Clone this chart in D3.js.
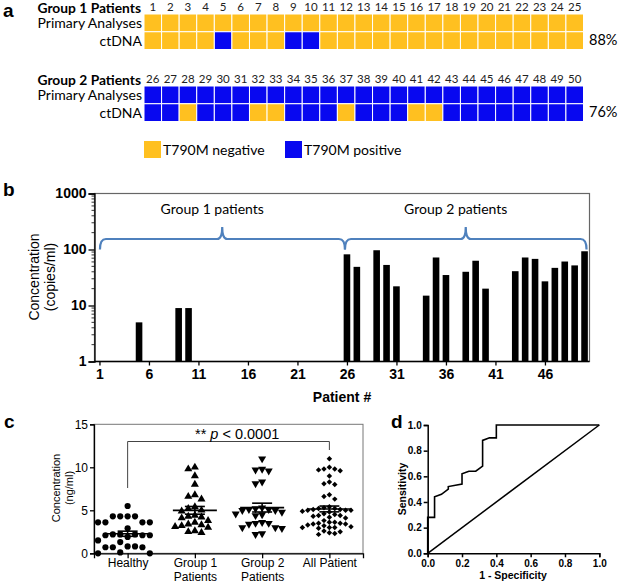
<!DOCTYPE html>
<html>
<head>
<meta charset="utf-8">
<script src="https://cdn.jsdelivr.net/npm/d3@7"></script>
<style>
body{margin:0;background:#fff}
svg{display:block}
.cal{font-family:Lato,"Open Sans",sans-serif}
.ari{font-family:"Liberation Sans",Arial,sans-serif}
</style>
</head>
<body>
<svg id="fig" width="618" height="583"></svg>
<script>
// panel a - T790M status per patient (1 = positive, 0 = negative)
var group1Ids = [1,2,3,4,5,6,7,8,9,10,11,12,13,14,15,16,17,18,19,20,21,22,23,24,25]
var group2Ids = [26,27,28,29,30,31,32,33,34,35,36,37,38,39,40,41,42,43,44,45,46,47,48,49,50]
var rowLabels = ["Primary Analyses","ctDNA"]
var group1Primary = [0,0,0,0,0,0,0,0,0,0,0,0,0,0,0,0,0,0,0,0,0,0,0,0,0]
var group1Ctdna   = [0,0,0,0,1,0,0,0,1,1,0,0,0,0,0,0,0,0,0,0,0,0,0,0,0]
var group2Primary = [1,1,1,1,1,1,1,1,1,1,1,1,1,1,1,1,1,1,1,1,1,1,1,1,1]
var group2Ctdna   = [1,1,0,1,1,1,0,0,1,1,1,0,1,1,1,0,0,1,1,1,1,1,1,1,1]
var concordance = ["88%","76%"]
var legendLabels = ["T790M negative","T790M positive"]

// panel b - ctDNA T790M copies/ml per patient (0 = not detected)
var patientIds = group1Ids.concat(group2Ids)
var copies = [0,0,0,0,5,0,0,0,9,9,0,0,0,0,0,0,0,0,0,0,0,0,0,0,0,
              82,49,0,97,53,22,0,0,15,72,35,0,40,63,20,0,0,41,72,68,27,47,61,52,93]
var copyTicks = [1,10,100,1000]
var patientTicks = [1,6,11,16,21,26,31,36,41,46]

// panel c - concentration (ng/ml)
var cCategories = ["Healthy","Group 1 Patients","Group 2 Patients","All Patient"]
var healthy = [5.5,4.3,4.3,4.3,4.3,3.6,3.6,3.6,3.6,2.9,2.2,2.2,2.2,2.1,2.1,2.1,1.9,1.5,1.3,0.8,0.8,0.7,0.7,0.7,0.1,0,0]
var group1 = [10,9.8,9,8,6.8,6.6,6.3,5.4,5.2,5,4.9,4.4,4.3,4.2,4.1,3.8,3.6,3.4,3.3,3.2,3.1,3,2.6,2.5,2.4]
var group2 = [11,9.8,9.6,9.7,8.3,8.1,5.3,5.1,5,5,5.2,5.1,4.8,4.6,4.5,4.4,3.6,3.5,3.4,3.5,3,2.9,3,2.3,2.2]
var allPatient = [11,10,9.8,9.8,9.7,9.6,9,8.3,8.1,8,6.8,6.6,6.3,5.4,5.3,5.2,5.2,5.1,5.1,5,5,5,4.9,4.8,4.6,
                  4.5,4.4,4.4,4.3,4.2,4.1,3.8,3.6,3.6,3.5,3.5,3.4,3.4,3.3,3.2,3.1,3,3,3,2.9,2.6,2.5,2.4,2.3,2.2]
var cTicks = [0,5,10,15]

// panel d - ROC curve
var rocFpr = [0,0,0.04,0.04,0.08,0.12,0.12,0.2,0.2,0.24,0.28,0.32,0.32,0.36,0.4,0.4,1]
var rocTpr = [0,0.28,0.28,0.44,0.46,0.5,0.52,0.54,0.62,0.64,0.64,0.68,0.88,0.9,0.9,1,1]
var rocTicks = [0,0.2,0.4,0.6,0.8,1]

var ORANGE = "#ffc020"
var BLUE = "#0808f0"

var svg = d3.select("#fig")

var panelLetter = function(letter,x,y)
{
    svg.append("text").text(letter).attr("class","ari")
    .attr("x",x).attr("y",y)
    .style("font-size","19px").style("font-weight","bold")
}

// ---------------- panel a ----------------
var drawGrid = function(ids,primary,ctdna,top,title,pct)
{
    var x = d3.scaleBand().domain(ids).range([144,583.5])
    var y = d3.scaleBand().domain(rowLabels).range([top,top+35.5])
    var g = svg.append("g")

    g.append("text").text(title).attr("class","cal")
    .attr("x",141).attr("y",top-1)
    .attr("text-anchor","end")
    .style("font-size","13.8px").style("font-weight","bold")

    g.selectAll(".num").data(ids).enter().append("text")
    .attr("class","cal")
    .attr("x",function(d){return x(d)+x.bandwidth()/2})
    .attr("y",top-3.5)
    .attr("text-anchor","middle")
    .style("font-size","11.5px").style("fill","#222")
    .text(function(d){return d})

    g.selectAll(".lab").data(rowLabels).enter().append("text")
    .attr("class","cal")
    .attr("x",142)
    .attr("y",function(d){return y(d)+y.bandwidth()-3.5})
    .attr("text-anchor","end")
    .style("font-size","14px")
    .text(function(d){return d})

    var rows = [primary,ctdna]
    rows.forEach(function(vals,r)
    {
        g.selectAll(".c"+r).data(vals).enter().append("rect")
        .attr("x",function(d,i){return x(ids[i])})
        .attr("y",y(rowLabels[r]))
        .attr("width",x.bandwidth())
        .attr("height",y.bandwidth())
        .attr("fill",function(d){return d==1?BLUE:ORANGE})
        .attr("stroke","#fff").attr("stroke-width",1)
    })

    g.append("text").text(pct).attr("class","cal")
    .attr("x",589).attr("y",top+31)
    .style("font-size","14.5px")
}

panelLetter("a",3,17)
drawGrid(group1Ids,group1Primary,group1Ctdna,14,"Group 1 Patients",concordance[0])
drawGrid(group2Ids,group2Primary,group2Ctdna,86,"Group 2 Patients",concordance[1])

var legendX = [144,285]
legendLabels.forEach(function(t,i)
{
    svg.append("rect").attr("x",legendX[i]).attr("y",141)
    .attr("width",17).attr("height",17)
    .attr("fill",i==0?ORANGE:BLUE)
    svg.append("text").text(t).attr("class","cal")
    .attr("x",legendX[i]+19).attr("y",155)
    .style("font-size","14px")
})

// ---------------- panel b ----------------
panelLetter("b",3,196)
var bx = d3.scaleLinear().domain([0.5,50.5]).range([94.5,589.5])
var by = d3.scaleLog().domain([1,1000]).range([361.5,193.5])

svg.append("rect").attr("x",bx(0.5)).attr("y",by(1000))
.attr("width",bx(50.5)-bx(0.5)).attr("height",by(1)-by(1000))
.attr("fill","none").attr("stroke","#666").attr("stroke-width",1.2)

svg.append("g").selectAll("rect")
.data(patientIds.filter(function(p,i){return copies[i]>0}))
.enter().append("rect")
.attr("x",function(p){return bx(p)-3.3})
.attr("width",6.6)
.attr("y",function(p){return by(copies[p-1])})
.attr("height",function(p){return by(1)-by(copies[p-1])})
.attr("fill","#000")

var byAxis = d3.axisLeft(by).tickValues(copyTicks).tickFormat(d3.format("d")).tickSize(6).tickPadding(2)
var byG = svg.append("g").attr("class","ari")
.attr("transform","translate("+bx(0.5)+",0)")
.call(byAxis)
byG.selectAll("text").style("font-size","14px").style("font-weight","bold").attr("fill","#000")
byG.selectAll("line,path").attr("stroke","#000").attr("stroke-width",1.3)
byG.selectAll(".minor").data(by.ticks().filter(function(t){return copyTicks.indexOf(t)<0}))
.enter().append("line").attr("class","minor")
.attr("x1",-3).attr("x2",0)
.attr("y1",function(d){return by(d)}).attr("y2",function(d){return by(d)})
.attr("stroke","#000").attr("stroke-width",0.8)

var bxAxis = d3.axisBottom(bx).tickValues(patientTicks).tickSize(4).tickPadding(4)
var bxG = svg.append("g").attr("class","ari")
.attr("transform","translate(0,"+by(1)+")")
.call(bxAxis)
bxG.select(".domain").remove()
bxG.append("line").attr("x1",bx(0.5)).attr("x2",bx(50.5)).attr("stroke","#000").attr("stroke-width",1.3)
bxG.selectAll("text").style("font-size","14px").style("font-weight","bold").attr("fill","#000")
bxG.selectAll(".tick line").attr("stroke","#000").attr("stroke-width",1.3)

svg.append("text").text("Patient #").attr("class","ari")
.attr("x",(bx(0.5)+bx(50.5))/2).attr("y",402)
.attr("text-anchor","middle")
.style("font-size","14px").style("font-weight","bold")

var bLabel = svg.append("text").attr("class","ari")
.attr("transform","translate(39,277) rotate(-90)")
.attr("text-anchor","middle")
.style("font-size","14px")
bLabel.append("tspan").attr("x",0).attr("dy",0).text("Concentration")
bLabel.append("tspan").attr("x",0).attr("dy",16).text("(copies/ml)")

// braces
var brace = function(p1,p2,pm,label)
{
    var x1 = bx(p1), x2 = bx(p2), xm = bx(pm)
    var yl = by(100)-10.5, ye = by(100), yp = by(100)-22.5
    var d = "M"+x1+","+ye+" Q"+x1+","+yl+" "+(x1+6)+","+yl+
            " L"+(xm-5)+","+yl+" Q"+xm+","+yl+" "+xm+","+yp+
            " Q"+xm+","+yl+" "+(xm+5)+","+yl+
            " L"+(x2-6)+","+yl+" Q"+x2+","+yl+" "+x2+","+ye
    svg.append("path").attr("d",d).attr("fill","none")
    .attr("stroke","#4f81bd").attr("stroke-width",2.2)
    svg.append("text").text(label).attr("class","cal")
    .attr("x",xm-10).attr("y",214).attr("text-anchor","middle")
    .style("font-size","14px")
}
brace(1.05,25.8,13.4,"Group 1 patients")
brace(25.8,50.2,38.0,"Group 2 patients")

// ---------------- panel c ----------------
panelLetter("c",4,428)
var cx = d3.scalePoint().domain(cCategories).range([94,363]).padding(0.5)
var cy = d3.scaleLinear().domain([0,15]).range([553.3,424.3])

svg.append("rect").attr("x",94).attr("y",cy(15))
.attr("width",363-94).attr("height",cy(0)-cy(15))
.attr("fill","none").attr("stroke","#777").attr("stroke-width",1)

var cyG = svg.append("g").attr("class","ari").attr("transform","translate(94,0)")
.call(d3.axisLeft(cy).tickValues(cTicks).tickSize(4).tickPadding(2))
cyG.selectAll("text").style("font-size","12px").attr("fill","#000")
cyG.selectAll("line,path").attr("stroke","#000").attr("stroke-width",1.3)

var cxG = svg.append("g").attr("class","ari").attr("transform","translate(0,"+cy(0)+")")
.call(d3.axisBottom(cx).tickSize(5).tickFormat(""))
cxG.selectAll("line,path").attr("stroke","#000").attr("stroke-width",1.3)
cxG.selectAll(".tick").append("text")
.attr("y",14).attr("text-anchor","middle").attr("fill","#000")
.style("font-size","12px")
.each(function(d)
{
    var words = d.split(" ")
    var t = d3.select(this)
    if (words.length==3)
    {
        t.append("tspan").attr("x",0).text(words[0]+" "+words[1])
        t.append("tspan").attr("x",0).attr("dy",13.5).text(words[2])
    }
    else { t.append("tspan").attr("x",0).text(d) }
})

var cLabel = svg.append("text").attr("class","ari")
.attr("transform","translate(60,488) rotate(-90)")
.attr("text-anchor","middle").style("font-size","11px")
cLabel.append("tspan").attr("x",0).text("Concentration")
cLabel.append("tspan").attr("x",0).attr("dy",13).text("(ng/ml)")

// significance bracket
svg.append("path")
.attr("d","M"+cx("Healthy")+",488 L"+cx("Healthy")+",441.5 L"+cx("All Patient")+",441.5 L"+cx("All Patient")+",450")
.attr("fill","none").attr("stroke","#444").attr("stroke-width",1)
var sig = svg.append("text").attr("class","ari").attr("x",195).attr("y",439).style("font-size","14.5px")
sig.append("tspan").text("** ")
sig.append("tspan").text("p").style("font-style","italic")
sig.append("tspan").text(" < 0.0001")

var swarm = function(values,gap)
{
    var placed = []
    values.slice().sort(function(a,b){return b-a}).forEach(function(v)
    {
        var y = cy(v)
        for (var k=0;k<30;k++)
        {
            var dx = (k%2==0?1:-1)*Math.ceil(k/2)*gap
            var hit = placed.some(function(p){return Math.hypot(p.dx-dx,p.y-y)<gap*0.95})
            if (!hit) { placed.push({v:v,y:y,dx:dx}); break }
        }
    })
    return placed
}

var series = [
    {name:"Healthy",values:healthy,sym:d3.symbolCircle,size:30,rot:0,gap:7.4},
    {name:"Group 1 Patients",values:group1,sym:d3.symbolTriangle,size:28,rot:0,gap:6.6},
    {name:"Group 2 Patients",values:group2,sym:d3.symbolTriangle,size:28,rot:180,gap:6.6},
    {name:"All Patient",values:allPatient,sym:d3.symbolSquare,size:15,rot:45,gap:5.4}
]
series.forEach(function(s)
{
    var c = cx(s.name)
    var pts = swarm(s.values,s.gap)
    svg.append("g").selectAll("path").data(pts).enter().append("path")
    .attr("d",d3.symbol().type(s.sym).size(s.size))
    .attr("transform",function(p){return "translate("+(c+p.dx)+","+p.y+") rotate("+s.rot+")"})
    .attr("fill","#000")

    var m = d3.mean(s.values)
    var se = d3.deviation(s.values)/Math.sqrt(s.values.length)
    var g = svg.append("g").attr("stroke","#000").attr("stroke-width",1.6)
    g.append("line").attr("x1",c-22).attr("x2",c+22).attr("y1",cy(m)).attr("y2",cy(m))
    g.append("line").attr("x1",c).attr("x2",c).attr("y1",cy(m-se)).attr("y2",cy(m+se))
    g.append("line").attr("x1",c-10).attr("x2",c+10).attr("y1",cy(m-se)).attr("y2",cy(m-se))
    g.append("line").attr("x1",c-10).attr("x2",c+10).attr("y1",cy(m+se)).attr("y2",cy(m+se))
})

// ---------------- panel d ----------------
panelLetter("d",391,428)
var dx = d3.scaleLinear().domain([0,1]).range([427.7,599.3])
var dy = d3.scaleLinear().domain([0,1]).range([553.3,425])

var dxG = svg.append("g").attr("class","ari").attr("transform","translate(0,"+dy(0)+")")
.call(d3.axisBottom(dx).tickValues(rocTicks).tickFormat(d3.format(".1f")).tickSize(4).tickPadding(3))
var dyG = svg.append("g").attr("class","ari").attr("transform","translate("+dx(0)+",0)")
.call(d3.axisLeft(dy).tickValues(rocTicks).tickFormat(d3.format(".1f")).tickSize(4).tickPadding(2))
;[dxG,dyG].forEach(function(g)
{
    g.selectAll("text").style("font-size","10px").style("font-weight","bold").attr("fill","#000")
    g.selectAll("line,path").attr("stroke","#000").attr("stroke-width",1.5)
})

svg.append("line").attr("x1",dx(0)).attr("y1",dy(0)).attr("x2",dx(1)).attr("y2",dy(1))
.attr("stroke","#000").attr("stroke-width",1.5)

svg.append("path")
.datum(rocFpr.map(function(f,i){return [f,rocTpr[i]]}))
.attr("d",d3.line().x(function(d){return dx(d[0])}).y(function(d){return dy(d[1])}))
.attr("fill","none").attr("stroke","#000").attr("stroke-width",1.6)

svg.append("text").text("1 - Specificity").attr("class","ari")
.attr("x",513).attr("y",579).attr("text-anchor","middle")
.style("font-size","10.5px").style("font-weight","bold")
svg.append("text").text("Sensitivity").attr("class","ari")
.attr("transform","translate(406,489) rotate(-90)").attr("text-anchor","middle")
.style("font-size","10.5px").style("font-weight","bold")
</script>
</body>
</html>
